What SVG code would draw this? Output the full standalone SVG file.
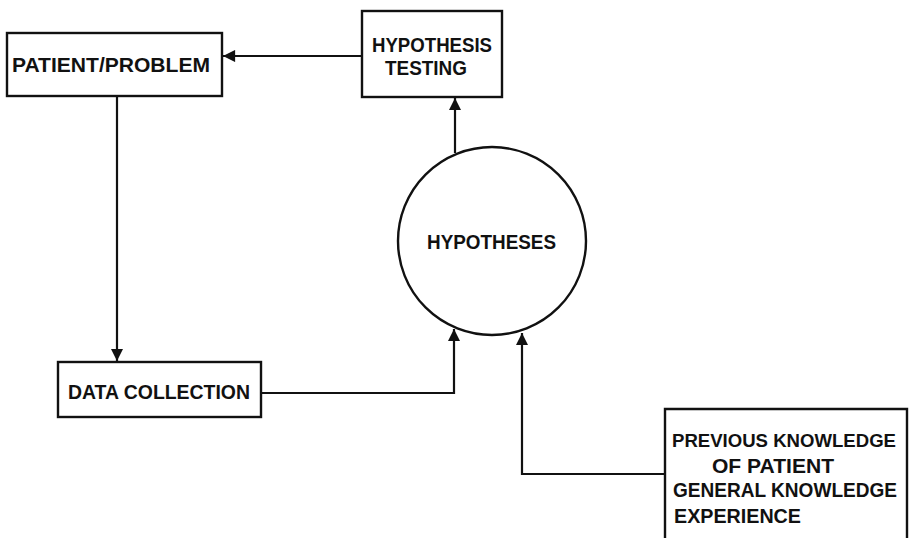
<svg xmlns="http://www.w3.org/2000/svg" width="910" height="538" viewBox="0 0 910 538">
<style>
.box{fill:#fff;stroke:#111;stroke-width:2.4}
.lbl{font-family:"Liberation Sans",Arial,sans-serif;font-weight:bold;font-size:20px;fill:#111}
.con{fill:none;stroke:#111;stroke-width:2.2}
</style>
<defs>
<marker id="ah" viewBox="0 0 10 10" refX="10" refY="5" markerWidth="6" markerHeight="5.5" markerUnits="strokeWidth" orient="auto">
<path d="M0,0 L10,5 L0,10 z" fill="#111"/>
</marker>
</defs>
<rect width="910" height="538" fill="#fff"/>
<g id="connectors">
<path class="con" d="M361,56 L223,56" marker-end="url(#ah)"/>
<path class="con" d="M455,153 L455,98" marker-end="url(#ah)"/>
<path class="con" d="M117,96 L117,361" marker-end="url(#ah)"/>
<path class="con" d="M262,393 L454,393 L454,329" marker-end="url(#ah)"/>
<path class="con" d="M665,474 L522,474 L522,333" marker-end="url(#ah)"/>
</g>
<g id="patient-problem">
<rect class="box" x="7" y="33" width="215" height="63"/>
<text class="lbl" x="12" y="72" textLength="198" lengthAdjust="spacingAndGlyphs">PATIENT/PROBLEM</text>
</g>
<g id="hypothesis-testing">
<rect class="box" x="362" y="11" width="140" height="86"/>
<text class="lbl" x="372" y="52" textLength="120" lengthAdjust="spacingAndGlyphs">HYPOTHESIS</text>
<text class="lbl" x="385" y="75" textLength="82" lengthAdjust="spacingAndGlyphs">TESTING</text>
</g>
<g id="hypotheses">
<circle class="box" cx="492" cy="241" r="94"/>
<text class="lbl" x="427" y="249" textLength="129" lengthAdjust="spacingAndGlyphs">HYPOTHESES</text>
</g>
<g id="data-collection">
<rect class="box" x="58" y="362" width="203" height="55"/>
<text class="lbl" x="68" y="399" textLength="182" lengthAdjust="spacingAndGlyphs">DATA COLLECTION</text>
</g>
<g id="knowledge">
<path class="box" d="M665,545 L665,409 L907,409 L907,545"/>
<text class="lbl" x="672" y="447" style="font-size:18.5px" textLength="224" lengthAdjust="spacingAndGlyphs">PREVIOUS KNOWLEDGE</text>
<text class="lbl" x="712" y="473" textLength="122" lengthAdjust="spacingAndGlyphs">OF PATIENT</text>
<text class="lbl" x="673" y="497" textLength="224" lengthAdjust="spacingAndGlyphs">GENERAL KNOWLEDGE</text>
<text class="lbl" x="674" y="523" textLength="127" lengthAdjust="spacingAndGlyphs">EXPERIENCE</text>
</g>
</svg>
